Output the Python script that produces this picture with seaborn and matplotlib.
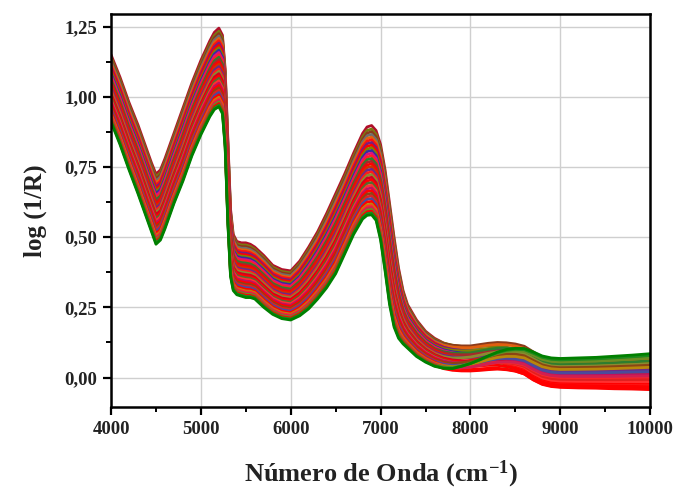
import numpy as np
import pandas as pd
import matplotlib
matplotlib.use("Agg")
import matplotlib.pyplot as plt
from matplotlib.ticker import FuncFormatter, MultipleLocator
import seaborn as sns

# Wavenumber grid (cm-1)
wavenumber = [4000, 4100, 4200, 4300, 4400, 4450, 4500, 4550, 4600, 4700, 4800, 4900,
              5000, 5100, 5150, 5200, 5240, 5270, 5300, 5330, 5360, 5400, 5450, 5500,
              5550, 5600, 5650, 5700, 5800, 5900, 6000, 6100, 6200, 6300, 6400, 6500,
              6600, 6700, 6800, 6850, 6900, 6950, 7000, 7050, 7100, 7150, 7200, 7250,
              7300, 7400, 7500, 7600, 7700, 7800, 7900, 8000, 8100, 8200, 8300, 8400,
              8500, 8600, 8700, 8800, 8900, 9000, 9200, 9400, 9600, 9800, 10000]

# Highest-absorbance spectrum of the set
spec_high = [1.15, 1.07, 0.98, 0.90, 0.81, 0.765, 0.725, 0.74, 0.78, 0.87, 0.96, 1.05,
             1.13, 1.20, 1.23, 1.245, 1.22, 1.10, 0.85, 0.60, 0.51, 0.485, 0.48, 0.48,
             0.475, 0.465, 0.45, 0.435, 0.40, 0.385, 0.38, 0.415, 0.465, 0.52, 0.585, 0.655,
             0.725, 0.80, 0.87, 0.893, 0.898, 0.88, 0.83, 0.74, 0.62, 0.50, 0.39, 0.31,
             0.26, 0.205, 0.165, 0.14, 0.128, 0.122, 0.12, 0.12, 0.125, 0.13, 0.133, 0.132,
             0.128, 0.12, 0.10, 0.08, 0.07, 0.068, 0.07, 0.072, 0.076, 0.08, 0.085]

# Lowest-absorbance spectrum of the set
spec_low = [0.91, 0.83, 0.74, 0.655, 0.565, 0.52, 0.475, 0.49, 0.53, 0.62, 0.70, 0.79,
            0.865, 0.93, 0.955, 0.965, 0.94, 0.82, 0.55, 0.36, 0.31, 0.295, 0.29, 0.285,
            0.285, 0.28, 0.265, 0.25, 0.225, 0.21, 0.205, 0.22, 0.245, 0.28, 0.32, 0.37,
            0.44, 0.51, 0.565, 0.578, 0.58, 0.56, 0.49, 0.38, 0.26, 0.18, 0.14, 0.12,
            0.105, 0.075, 0.055, 0.04, 0.028, 0.022, 0.02, 0.02, 0.022, 0.025, 0.027, 0.025,
            0.02, 0.01, -0.01, -0.025, -0.032, -0.035, -0.037, -0.038, -0.04, -0.041, -0.043]

# Share of the baseline ordering at each wavenumber (0 = band ordering, 1 = baseline ordering)
baseline_share = [0, 0, 0, 0, 0, 0, 0, 0, 0, 0, 0, 0,
                  0, 0, 0, 0, 0, 0, 0, 0, 0, 0, 0, 0,
                  0, 0, 0, 0, 0, 0, 0, 0, 0, 0, 0, 0,
                  0, 0, 0, 0, 0, 0, 0, 0, 0, 0, 0, 0,
                  0, 0, 0, 0, 0.05, 0.1, 0.2, 0.3, 0.4, 0.5, 0.6, 0.7,
                  0.78, 0.85, 0.92, 0.97, 1, 1, 1, 1, 1, 1, 1]

# Samples: line colour, relative level in the absorption bands and at the baseline
sample_colors = ["#B0102A", "#7A7A10", "#8B3A1A", "#6E6E6E", "#E06010", "#FF1010",
                 "#7A1F7A", "#FF0000", "#808000", "#3030A0", "#E0107A", "#FF2020",
                 "#2E7D2E", "#A52A2A", "#FF0000", "#CC3300", "#6A2A8A", "#FF1A1A",
                 "#8A8A30", "#D00020", "#FF0000", "#556B2F", "#FF3030", "#C01060",
                 "#FF0000", "#8B4513", "#E02020", "#4B4B9B", "#FF0000", "#B8860B",
                 "#FF2A2A", "#D02050", "#6B8E23", "#FF0000", "#1E8B1E", "#008000"]
band_level = [1.00, 0.96, 0.93, 0.90, 0.87, 0.84, 0.81, 0.78, 0.75, 0.72, 0.69, 0.66,
              0.63, 0.60, 0.57, 0.54, 0.51, 0.48, 0.45, 0.42, 0.39, 0.36, 0.33, 0.30,
              0.27, 0.24, 0.21, 0.18, 0.15, 0.12, 0.10, 0.08, 0.06, 0.04, 0.02, 0.00]
baseline_level = [0.05, 0.70, 0.92, 0.55, 0.85, 0.12, 0.60, 0.20, 0.75, 0.50, 0.40, 0.15,
                  0.80, 0.65, 0.25, 0.45, 0.55, 0.10, 0.72, 0.30, 0.18, 0.03, 0.22, 0.42,
                  0.08, 0.68, 0.28, 0.50, 0.00, 0.62, 0.35, 0.38, 0.88, 0.02, 0.95, 1.00]

wn = np.array(wavenumber, dtype=float)
hi = np.array(spec_high)
lo = np.array(spec_low)
share = np.array(baseline_share)

rows = []
for i, (b, t) in enumerate(zip(band_level, baseline_level)):
    level = (1 - share) * b + share * t
    absorb = lo + level * (hi - lo)
    rows.append(pd.DataFrame({"wavenumber": wn, "absorbance": absorb, "sample": f"s{i:02d}"}))
spectra = pd.concat(rows, ignore_index=True)
palette = {f"s{i:02d}": c for i, c in enumerate(sample_colors)}

sns.set_theme(style="whitegrid")
plt.rcParams["font.family"] = ["Liberation Serif", "DejaVu Serif"]
plt.rcParams["font.weight"] = "bold"
plt.rcParams["mathtext.fontset"] = "custom"
plt.rcParams["mathtext.rm"] = "Liberation Serif:bold"
plt.rcParams["mathtext.bf"] = "Liberation Serif:bold"
plt.rcParams["mathtext.it"] = "Liberation Serif:bold"

fig = plt.figure(figsize=(6.73, 4.93), dpi=100)
ax = fig.add_axes([0.165, 0.1744, 0.801, 0.797])

sns.lineplot(data=spectra, x="wavenumber", y="absorbance", hue="sample",
             palette=palette, estimator=None, sort=False, legend=False,
             linewidth=2.0, ax=ax)

ax.set_xlim(4000, 10000)
ax.set_ylim(-0.105, 1.295)
ax.xaxis.set_major_locator(MultipleLocator(1000))
ax.xaxis.set_minor_locator(MultipleLocator(500))
ax.yaxis.set_major_locator(MultipleLocator(0.25))
ax.yaxis.set_minor_locator(MultipleLocator(0.125))
ax.yaxis.set_major_formatter(FuncFormatter(lambda v, p: f"{v:.2f}".replace(".", ",")))

ax.grid(True, which="major", color="#cfcfcf", linewidth=1.0)
ax.grid(False, which="minor")
ax.set_facecolor("white")
for s in ax.spines.values():
    s.set_color("black")
    s.set_linewidth(1.8)

ax.tick_params(axis="both", which="major", direction="out", length=6, width=1.6,
               color="black", labelsize=13.5, pad=4, bottom=True, left=True)
ax.tick_params(axis="both", which="minor", direction="out", length=3.5, width=1.4,
               color="black", bottom=True, left=True)
for lab in ax.get_xticklabels() + ax.get_yticklabels():
    lab.set_fontweight("bold")
    lab.set_color("#222222")

ax.set_xlabel(r"Número de Onda (cm$^{-1}$)", fontsize=19, fontweight="bold",
              labelpad=15, color="#222222")
ax.set_ylabel("log (1/R)", fontsize=18, fontweight="bold", labelpad=12, color="#222222")

fig.savefig("out.png", dpi=100, facecolor="white")
